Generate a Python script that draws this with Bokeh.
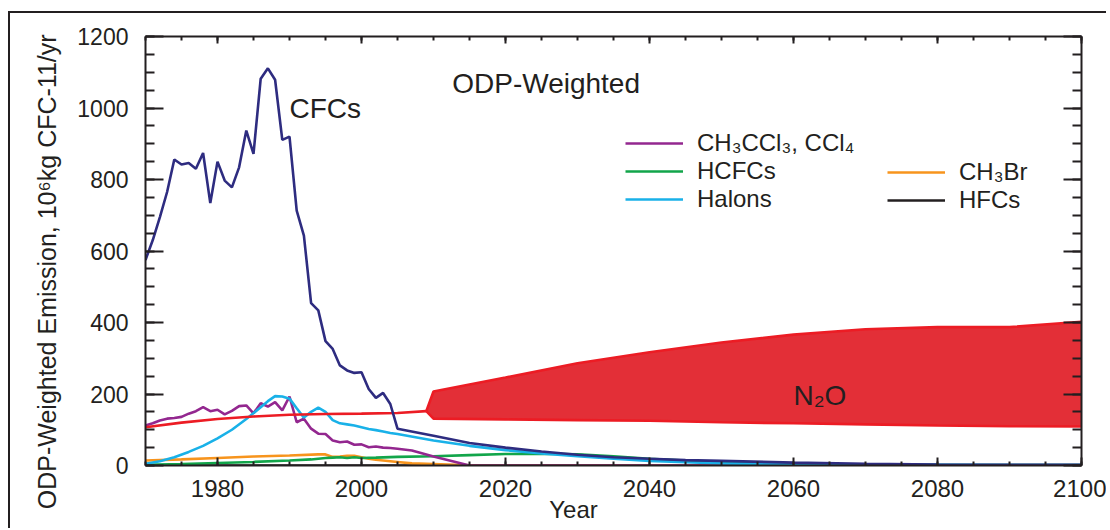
from bokeh.plotting import figure
from bokeh.models import (Range1d, LinearAxis, SingleIntervalTicker,
                          Label, Legend, LegendItem, CustomJSTickFormatter)
from bokeh.embed import file_html
from bokeh.resources import INLINE

FONT = "Liberation Sans"
INK = "#231f20"

# ---------------- data ----------------
cfc_years = list(range(1970, 2006)) + [2010, 2015, 2020, 2025, 2030, 2035, 2040, 2045, 2050,
                                       2060, 2070, 2080, 2090, 2100]
cfc_vals = [575, 630, 695, 765, 856, 842, 846, 830, 874, 734,
            850, 797, 778, 834, 937, 872, 1082, 1111, 1079, 911,
            920, 713, 643, 454, 434, 348, 326, 280, 266, 259,
            261, 214, 189, 203, 172, 103,
            83, 63, 50, 39, 30, 23, 19, 15, 13,
            8, 5, 3, 2, 2]

halon_years = [1970, 1972, 1974, 1976, 1978, 1980, 1982, 1984,
               1986, 1987, 1988, 1989, 1990, 1991, 1992, 1993, 1994, 1995, 1996, 1997, 1998, 1999,
               2000, 2001, 2002, 2003, 2004, 2005,
               2010, 2015, 2020, 2025, 2030, 2035, 2040, 2045, 2050,
               2060, 2080, 2100]
halon_vals = [5, 12, 23, 38, 55, 76, 100, 130,
              163, 180, 194, 193, 187, 160, 134, 150, 162, 150, 127, 118, 115, 112,
              107, 102, 99, 95, 91, 88,
              70, 55, 43, 34, 26, 19, 13, 9, 6,
              3, 2, 1]

ccl_years = list(range(1970, 2006)) + [2007, 2010, 2015, 2100]
ccl_vals = [112, 118, 126, 131, 133, 136, 145, 152, 163, 152,
            156, 143, 153, 166, 168, 146, 174, 165, 177, 154,
            193, 121, 131, 103, 89, 88, 70, 65, 67, 58,
            59, 51, 53, 50, 49, 47,
            42, 25, 0, 0]

hcfc_years = [1970, 1975, 1980, 1985, 1990, 1993, 1995, 1996, 1997, 1998, 1999, 2000, 2002, 2005,
              2010, 2015, 2020, 2025, 2030, 2035, 2040, 2045, 2050, 2055, 2060, 2070, 2080, 2100]
hcfc_vals = [2, 4, 7, 10, 14, 17, 21, 22, 23, 21, 23, 21, 22, 24,
             26, 29, 32, 33, 31, 26, 19, 14, 10, 7, 5, 3, 2, 1]

ch3br_years = [1970, 1975, 1980, 1985, 1990, 1994, 1995, 1996, 1997, 1998, 1999, 2000, 2001,
               2002, 2003, 2005, 2007, 2010, 2013, 2016, 2100]
ch3br_vals = [14, 17, 21, 25, 28, 31, 31, 24, 25, 27, 27, 23, 19,
              16, 14, 10, 6, 4, 2, 0, 0]

hfc_years = [1970, 2100]
hfc_vals = [0, 0]

n2o_years = [1970, 1975, 1980, 1985, 1990, 1995, 2000, 2005, 2009]
n2o_vals = [107, 120, 130, 137, 142, 144, 145, 147, 152]

band_years = [2009, 2010, 2020, 2030, 2040, 2050, 2060, 2070, 2080, 2090, 2100]
band_upper = [152, 207, 246, 286, 317, 344, 366, 381, 387, 387, 402]
band_lower = [152, 131, 129, 127, 125, 121, 118, 115, 112, 110, 109]

x_ticks_interval = 20
y_ticks_interval = 200

# colours
C_CFC = "#2e2c80"
C_CCL = "#93278f"
C_HCFC = "#12a54a"
C_HALON = "#19b1e8"
C_CH3BR = "#f7941d"
C_HFC = "#231f20"
C_N2O = "#ec1c24"
C_N2O_FILL = "#e32f37"

# ---------------- figure ----------------
p = figure(width=1098, height=517, output_backend="svg", toolbar_location=None,
           x_range=Range1d(1970, 2100), y_range=Range1d(0, 1200),
           min_border_left=135, min_border_right=27, min_border_top=23,
           min_border_bottom=65)
p.margin = (11, 0, 0, 8)
p.styles = {"border-top": "2px solid #231f20", "border-left": "2px solid #231f20"}
p.background_fill_color = "white"
p.border_fill_color = "white"
p.outline_line_color = None
p.xgrid.visible = False
p.ygrid.visible = False


def style_axis(ax, interval, major_in, minor_in, show_labels):
    ax.ticker = SingleIntervalTicker(interval=interval, num_minor_ticks=4)
    ax.axis_line_color = INK
    ax.axis_line_width = 2
    ax.major_tick_line_color = INK
    ax.minor_tick_line_color = INK
    ax.major_tick_line_width = 2
    ax.minor_tick_line_width = 2
    ax.major_tick_in = major_in
    ax.major_tick_out = 0
    ax.minor_tick_in = minor_in
    ax.minor_tick_out = 0
    ax.major_label_text_font = FONT
    ax.major_label_text_color = INK
    ax.axis_label_text_font = FONT
    ax.axis_label_text_font_style = "normal"
    ax.axis_label_text_color = INK
    if not show_labels:
        ax.formatter = CustomJSTickFormatter(code="return ''")
        ax.major_label_text_font_size = "1px"
        ax.major_label_standoff = 0


xa = p.xaxis[0]
style_axis(xa, x_ticks_interval, 8, 4, True)
xa.major_label_text_font_size = "24px"
xa.major_label_standoff = 14
xa.axis_label = "Year" + " " * 12
xa.axis_label_text_font_size = "24px"
xa.axis_label_standoff = -4

ya = p.yaxis[0]
style_axis(ya, y_ticks_interval, 18, 9, True)
ya.major_label_text_font_size = "23px"
ya.major_label_standoff = 17
ya.axis_label = "ODP-Weighted Emission, 10⁶kg CFC-11/yr" + " " * 6
ya.axis_label_text_font_size = "25px"
ya.axis_label_standoff = 13

top_ax = LinearAxis()
style_axis(top_ax, x_ticks_interval, 7, 4, False)
p.add_layout(top_ax, "above")
right_ax = LinearAxis()
style_axis(right_ax, y_ticks_interval, 18, 9, False)
p.add_layout(right_ax, "right")

# ---------------- data glyphs ----------------
LW = 2.6
r_hfc = p.line(hfc_years, hfc_vals, line_color=C_HFC, line_width=LW)
r_br = p.line(ch3br_years, ch3br_vals, line_color=C_CH3BR, line_width=LW)
r_hcfc = p.line(hcfc_years, hcfc_vals, line_color=C_HCFC, line_width=LW)
r_ccl = p.line(ccl_years, ccl_vals, line_color=C_CCL, line_width=LW)
r_halon = p.line(halon_years, halon_vals, line_color=C_HALON, line_width=LW)

p.varea(x=band_years, y1=band_lower, y2=band_upper, fill_color=C_N2O_FILL)
p.line(band_years, band_upper, line_color=C_N2O, line_width=LW)
p.line(band_years, band_lower, line_color=C_N2O, line_width=LW)
p.line(n2o_years, n2o_vals, line_color=C_N2O, line_width=LW)

r_cfc = p.line(cfc_years, cfc_vals, line_color=C_CFC, line_width=LW)

# ---------------- legends ----------------
def make_legend(items, loc):
    return Legend(items=items, location=loc, orientation="vertical",
                  glyph_width=58, glyph_height=28, label_height=28, label_standoff=14,
                  spacing=0, padding=0, margin=0, border_line_color=None,
                  background_fill_alpha=0, label_text_font=FONT,
                  label_text_font_size="24px", label_text_color=INK)


leg1 = make_legend([LegendItem(label="CH₃CCl₃, CCl₄", renderers=[r_ccl]),
                    LegendItem(label="HCFCs", renderers=[r_hcfc]),
                    LegendItem(label="Halons", renderers=[r_halon])], (480, 252))
leg2 = make_legend([LegendItem(label="CH₃Br", renderers=[r_br]),
                    LegendItem(label="HFCs", renderers=[r_hfc])], (742, 251))
p.add_layout(leg1)
p.add_layout(leg2)

# ---------------- text ----------------
def add_label(text, x, y, size):
    p.add_layout(Label(x=x, y=y, text=text, text_font=FONT, text_font_size=size,
                       text_color=INK, text_align="left", text_baseline="alphabetic"))


add_label("CFCs", 1990.0, 999, "28px")
add_label("ODP-Weighted", 2012.6, 1068, "28px")
add_label("N₂O", 2060.0, 196, "28px")

open("out.html", "w").write(file_html(p, INLINE))
